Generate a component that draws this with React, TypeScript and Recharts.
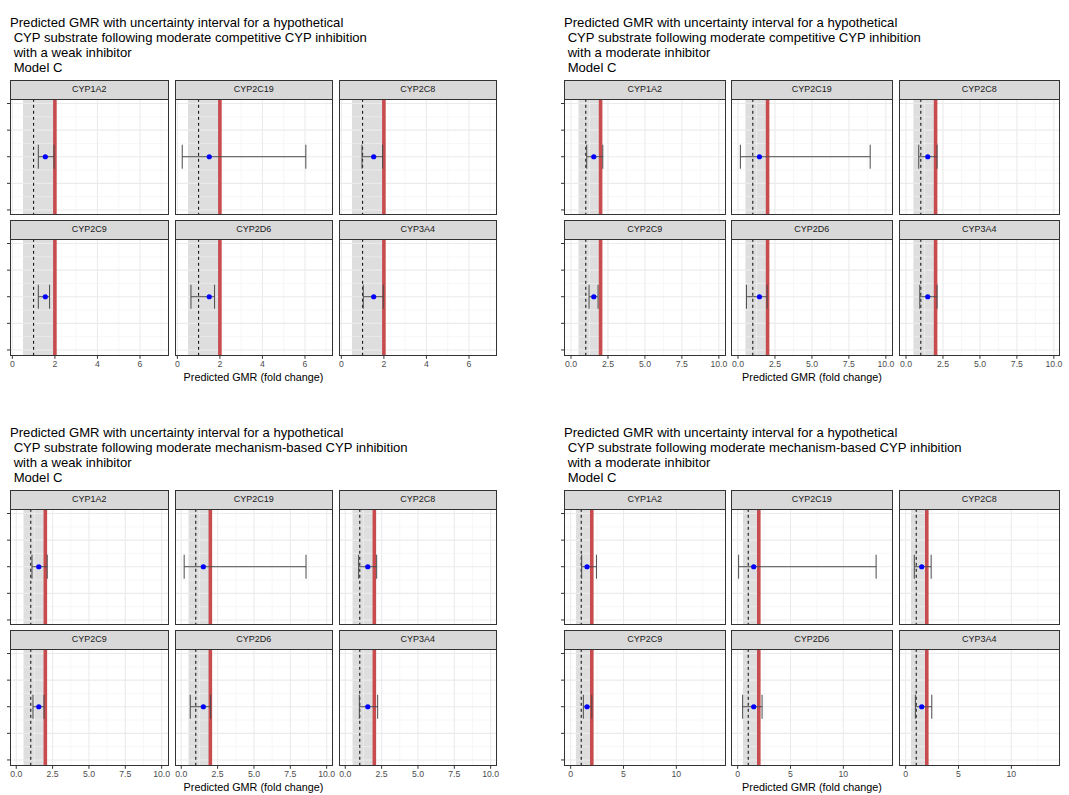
import React from 'react';
import { ComposedChart, XAxis, YAxis, Scatter, ErrorBar, ReferenceArea, ReferenceLine } from 'recharts';

const facetNames = ['CYP1A2', 'CYP2C19', 'CYP2C8', 'CYP2C9', 'CYP2D6', 'CYP3A4'];

const yTicks = [0, 1, 2, 3, 4];
const yMinor = [0.5, 1.5, 2.5, 3.5];
const yDomain: [number, number] = [-0.22, 4.17];
const pointY = 2;

const bandLow = 0.5;
const bandHigh = 2;
const noEffectLine = 1;
const thresholdLine = 2;

// Quadrant 1: competitive, weak inhibitor
const q1Gmr = [1.55, 1.5, 1.52, 1.55, 1.5, 1.52];
const q1Lower = [1.22, 0.23, 0.97, 1.22, 0.64, 1.03];
const q1Upper = [1.96, 6.04, 1.94, 1.75, 1.75, 1.97];
const q1Ticks = [0, 2, 4, 6];
const q1Minor = [1, 3, 5, 7];

// Quadrant 2: competitive, moderate inhibitor
const q2Gmr = [1.54, 1.45, 1.47, 1.54, 1.45, 1.47];
const q2Lower = [1.06, 0.16, 0.86, 1.22, 0.57, 0.93];
const q2Upper = [2.15, 8.94, 2.1, 1.83, 1.97, 2.1];
const q2Ticks = [0, 2.5, 5, 7.5, 10];
const q2Minor = [1.25, 3.75, 6.25, 8.75];

// Quadrant 3: mechanism-based, weak inhibitor
const q3Gmr = [1.55, 1.52, 1.55, 1.55, 1.52, 1.55];
const q3Lower = [1.08, 0.2, 0.92, 1.15, 0.62, 0.97];
const q3Upper = [2.13, 8.58, 2.16, 1.91, 2.02, 2.23];
const q3Ticks = [0, 2.5, 5, 7.5, 10];
const q3Minor = [1.25, 3.75, 6.25, 8.75];

// Quadrant 4: mechanism-based, moderate inhibitor
const q4Gmr = [1.55, 1.52, 1.52, 1.55, 1.52, 1.52];
const q4Lower = [1.04, 0.09, 0.82, 1.2, 0.47, 0.92];
const q4Upper = [2.44, 13.1, 2.41, 2.0, 2.31, 2.47];
const q4Ticks = [0, 5, 10];
const q4Minor = [2.5, 7.5, 12.5];

const titles = [
  'Predicted GMR with uncertainty interval for a hypothetical\n CYP substrate following moderate competitive CYP inhibition\n with a weak inhibitor\n Model C',
  'Predicted GMR with uncertainty interval for a hypothetical\n CYP substrate following moderate competitive CYP inhibition\n with a moderate inhibitor\n Model C',
  'Predicted GMR with uncertainty interval for a hypothetical\n CYP substrate following moderate mechanism-based CYP inhibition\n with a weak inhibitor\n Model C',
  'Predicted GMR with uncertainty interval for a hypothetical\n CYP substrate following moderate mechanism-based CYP inhibition\n with a moderate inhibitor\n Model C',
];
const xTitle = 'Predicted GMR (fold change)';

const FONT = '"Liberation Sans", Arial, Helvetica, sans-serif';
const STRIP_H = 18.5;
const PANEL_H = 116.8;
const ROW_GAP = 140.3;

type QuadCfg = {
  title: string;
  gmr: number[];
  lower: number[];
  upper: number[];
  ticks: number[];
  minor: number[];
  domain: [number, number];
  fmt: (v: number) => string;
  lefts: number[];
  width: number;
  top: number;
  titleLeft: number;
};

const intFmt = (v: number) => String(v);
const oneDec = (v: number) => v.toFixed(1);

const quads: QuadCfg[] = [
  { title: titles[0], gmr: q1Gmr, lower: q1Lower, upper: q1Upper, ticks: q1Ticks, minor: q1Minor, domain: [-0.11, 7.34], fmt: intFmt, lefts: [10, 174.5, 338.5], width: 158.5, top: 80, titleLeft: 10 },
  { title: titles[1], gmr: q2Gmr, lower: q2Lower, upper: q2Upper, ticks: q2Ticks, minor: q2Minor, domain: [-0.475, 10.45], fmt: oneDec, lefts: [564, 731, 898.5], width: 161.5, top: 80, titleLeft: 564 },
  { title: titles[2], gmr: q3Gmr, lower: q3Lower, upper: q3Upper, ticks: q3Ticks, minor: q3Minor, domain: [-0.43, 10.47], fmt: oneDec, lefts: [10, 174.5, 338.5], width: 158.5, top: 490, titleLeft: 10 },
  { title: titles[3], gmr: q4Gmr, lower: q4Lower, upper: q4Upper, ticks: q4Ticks, minor: q4Minor, domain: [-0.63, 14.65], fmt: intFmt, lefts: [564, 731, 898.5], width: 161.5, top: 490, titleLeft: 564 },
];

function Dot(props: any) {
  const { cx, cy } = props;
  if (cx == null || cy == null) return null;
  return <circle cx={cx} cy={cy} r={2.6} fill="#0000ff" />;
}

function Facet({ q, idx }: { q: QuadCfg; idx: number }) {
  const col = idx % 3;
  const row = Math.floor(idx / 3);
  const showY = col === 0;
  const showX = row === 1;
  const leftExtra = showY ? 5 : 0;
  const bottomExtra = showX ? 18 : 0;
  const rightExtra = 10;
  const px = q.lefts[col];
  const stripTop = q.top + row * ROW_GAP;
  const panelTop = stripTop + STRIP_H;
  const g = q.gmr[idx];
  const data = [{ x: g, y: pointY, err: [g - q.lower[idx], q.upper[idx] - g] }];
  return (
    <>
      <div
        style={{
          position: 'absolute', left: px, top: stripTop, width: q.width, height: STRIP_H + 1,
          background: '#d9d9d9', border: '1px solid #333', boxSizing: 'border-box',
          fontFamily: FONT, fontSize: 9, color: '#1a1a1a', textAlign: 'center', lineHeight: `${STRIP_H - 1}px`,
        }}
      >
        {facetNames[idx]}
      </div>
      <div style={{ position: 'absolute', left: px - leftExtra, top: panelTop }}>
        <ComposedChart
          width={q.width + leftExtra + rightExtra}
          height={PANEL_H + bottomExtra}
          margin={{ top: 0, right: rightExtra, bottom: 0, left: 0 }}
        >
          <XAxis
            type="number" dataKey="x" domain={q.domain} ticks={q.ticks} allowDataOverflow
            hide={!showX} height={bottomExtra} tickFormatter={q.fmt} axisLine={false}
            tickSize={3} tickMargin={2} interval={0}
            tick={{ fontSize: 8.7, fill: '#4d4d4d', fontFamily: FONT }}
            tickLine={{ stroke: '#333' }}
          />
          <YAxis
            type="number" dataKey="y" domain={yDomain} ticks={yTicks} allowDataOverflow
            hide={!showY} width={leftExtra} tickFormatter={() => ''} axisLine={false}
            tickSize={3} tickMargin={0} tickLine={{ stroke: '#333' }}
          />
          {q.minor.map((v) => (
            <ReferenceLine key={'vm' + v} x={v} stroke="#f2f2f2" strokeWidth={0.6} />
          ))}
          {yMinor.map((v) => (
            <ReferenceLine key={'hm' + v} y={v} stroke="#f2f2f2" strokeWidth={0.6} />
          ))}
          {q.ticks.map((v) => (
            <ReferenceLine key={'vM' + v} x={v} stroke="#ebebeb" strokeWidth={1.1} />
          ))}
          {yTicks.map((v) => (
            <ReferenceLine key={'hM' + v} y={v} stroke="#ebebeb" strokeWidth={1.1} />
          ))}
          <ReferenceArea x1={bandLow} x2={bandHigh} fill="#dedede" fillOpacity={1} stroke="none" />
          <ReferenceLine x={noEffectLine} stroke="#000" strokeWidth={1} strokeDasharray="3 3" />
          <ReferenceLine x={thresholdLine} stroke="#c84b4e" strokeWidth={3.6} />
          <Scatter data={data} isAnimationActive={false} shape={<Dot />}>
            <ErrorBar dataKey="err" direction="x" width={12} stroke="#4a4a4a" strokeWidth={1} isAnimationActive={false} />
          </Scatter>
        </ComposedChart>
      </div>
      <div
        style={{
          position: 'absolute', left: px, top: panelTop, width: q.width, height: PANEL_H,
          border: '1px solid #333', boxSizing: 'border-box', pointerEvents: 'none',
        }}
      />
    </>
  );
}

function Quadrant({ q }: { q: QuadCfg }) {
  const l = q.lefts[0];
  const r = q.lefts[2] + q.width;
  return (
    <>
      <div
        style={{
          position: 'absolute', left: q.titleLeft, top: q.top - 65.5, whiteSpace: 'pre',
          fontFamily: FONT, fontSize: 13.1, lineHeight: '15px', color: '#000',
        }}
      >
        {q.title}
      </div>
      {facetNames.map((_, i) => (
        <Facet key={i} q={q} idx={i} />
      ))}
      <div
        style={{
          position: 'absolute', left: l, width: r - l, top: q.top + ROW_GAP + STRIP_H + PANEL_H + 15.5,
          textAlign: 'center', fontFamily: FONT, fontSize: 10.8, lineHeight: '13px', color: '#000',
        }}
      >
        {xTitle}
      </div>
    </>
  );
}

export default function App() {
  return (
    <div style={{ position: 'absolute', left: 0, top: 0, width: 1069, height: 795, background: '#fff', overflow: 'hidden' }}>
      {quads.map((q, i) => (
        <Quadrant key={i} q={q} />
      ))}
    </div>
  );
}
